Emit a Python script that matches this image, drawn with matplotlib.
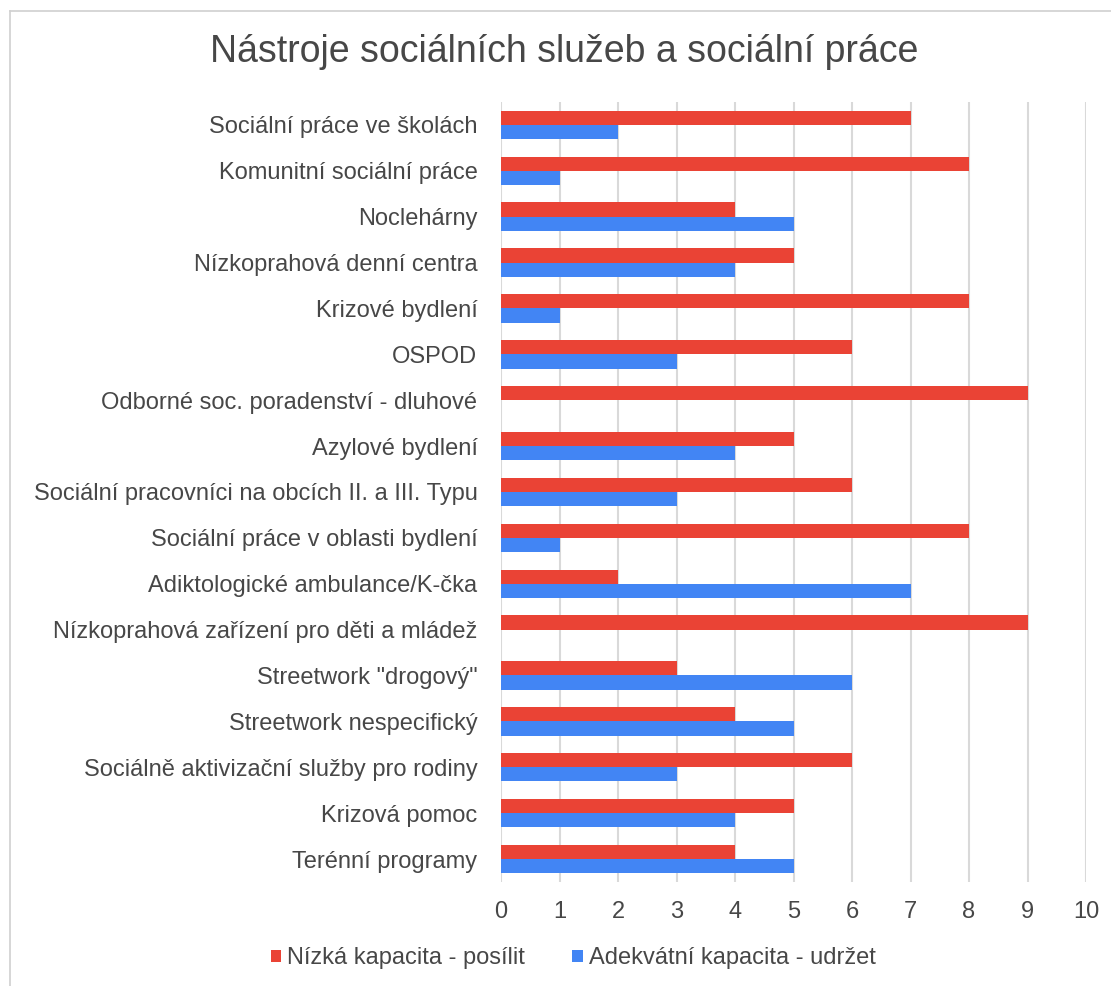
import matplotlib
matplotlib.use("Agg")
import matplotlib.pyplot as plt
import numpy as np
from matplotlib.lines import Line2D

categories = [
    "Sociální práce ve školách",
    "Komunitní sociální práce",
    "Noclehárny",
    "Nízkoprahová denní centra",
    "Krizové bydlení",
    "OSPOD",
    "Odborné soc. poradenství - dluhové",
    "Azylové bydlení",
    "Sociální pracovníci na obcích II. a III. Typu",
    "Sociální práce v oblasti bydlení",
    "Adiktologické ambulance/K-čka",
    "Nízkoprahová zařízení pro děti a mládež",
    "Streetwork \"drogový\"",
    "Streetwork nespecifický",
    "Sociálně aktivizační služby pro rodiny",
    "Krizová pomoc",
    "Terénní programy",
]
low_capacity = [7, 8, 4, 5, 8, 6, 9, 5, 6, 8, 2, 9, 3, 4, 6, 5, 4]
adequate_capacity = [2, 1, 5, 4, 1, 3, 0, 4, 3, 1, 7, 0, 6, 5, 3, 4, 5]
series_names = ["Nízká kapacita - posílit", "Adekvátní kapacita - udržet"]
x_ticks = list(range(0, 11))

RED = "#EA4335"
BLUE = "#4285F4"
TEXT = "#474747"

plt.rcParams['font.family'] = ['Liberation Sans', 'DejaVu Sans']

fig = plt.figure(figsize=(11.11, 9.86), dpi=100)
ax = fig.add_axes([0.451, 0.1055, 0.5265, 0.7911])

n = len(categories)
y = np.arange(n)
h = 0.31
ax.barh(y - h / 2, low_capacity, height=h, color=RED, label=series_names[0], zorder=3)
ax.barh(y + h / 2, adequate_capacity, height=h, color=BLUE, label=series_names[1], zorder=3)

ax.set_ylim(n - 0.5, -0.5)
ax.set_xlim(0, 10)
ax.set_yticks(y)
ax.set_yticklabels(categories, fontsize=17, color=TEXT)
ax.set_xticks(x_ticks)
ax.set_xticklabels([str(t) for t in x_ticks], fontsize=17, color=TEXT)
ax.tick_params(axis='both', length=0)
ax.tick_params(axis='y', pad=17)
ax.tick_params(axis='x', pad=14)
for s in ax.spines.values():
    s.set_visible(False)
ax.grid(axis='x', color='#d9d9d9', linewidth=1.5, zorder=0)

fig.text(0.508, 0.947, "Nástroje sociálních služeb a sociální práce",
         ha='center', va='center', fontsize=27, color=TEXT)

fig.legend(loc='center', bbox_to_anchor=(0.516, 0.028), ncol=2, frameon=False,
           fontsize=17, handlelength=0.45, handleheight=0.45, handletextpad=0.25,
           columnspacing=2.0, labelcolor=TEXT)

fig.add_artist(Line2D([10 / 1111, 10 / 1111], [0, 1 - 11 / 986], color='#d0d0d0', lw=1.2))
fig.add_artist(Line2D([10 / 1111, 1], [1 - 11 / 986, 1 - 11 / 986], color='#d0d0d0', lw=1.2))

fig.savefig("out.png", dpi=100)
